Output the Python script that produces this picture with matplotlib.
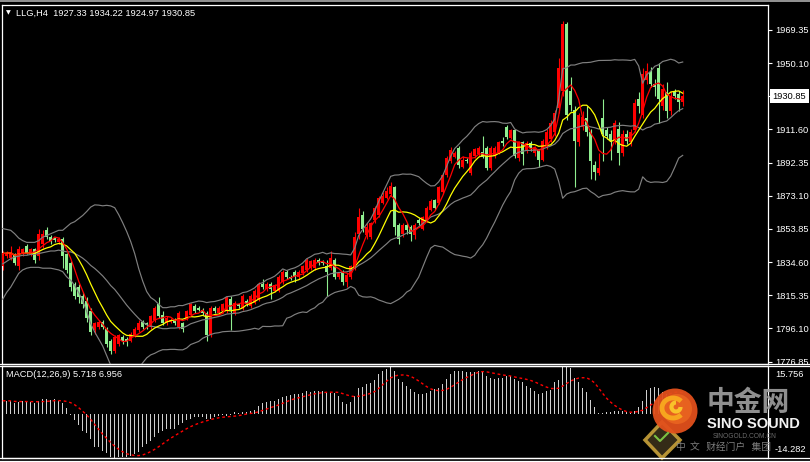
import numpy as np
import pandas as pd
import matplotlib
matplotlib.use('Agg')
from matplotlib import pyplot as plt
from matplotlib import patches

plt.rcParams['font.family'] = ['Liberation Sans', 'DejaVu Sans']

# H4 candles (index 0 = leftmost bar)
opens = [
    1832, 1838, 1837, 1839, 1832, 1839, 1844, 1839, 1842, 1838,
    1845, 1853, 1849, 1848.5, 1846, 1848, 1839, 1834, 1822, 1820,
    1815, 1812, 1806, 1795, 1797, 1800, 1796, 1789, 1783, 1787,
    1791, 1790, 1789, 1792, 1795, 1800, 1799, 1797, 1801, 1810,
    1804, 1799, 1800, 1801, 1797, 1799, 1802, 1804, 1809, 1808,
    1807, 1805, 1792, 1808, 1805, 1806, 1806, 1813, 1805, 1810,
    1808, 1812, 1809, 1811, 1813, 1822, 1819, 1822, 1818, 1818,
    1823, 1829, 1826, 1829, 1826, 1828, 1830, 1831, 1831, 1836,
    1835, 1832, 1831, 1836, 1826, 1829, 1823, 1826, 1831, 1851,
    1862, 1850, 1849, 1859, 1862, 1869, 1872, 1874, 1878, 1856,
    1851, 1856, 1855, 1850.5, 1859, 1854, 1859, 1865, 1870.5, 1869,
    1875, 1885, 1893, 1895.5, 1901, 1890, 1894, 1886, 1896, 1897,
    1898.5, 1901, 1889, 1896, 1898, 1905, 1913, 1906.5, 1911, 1895,
    1904, 1899, 1903.5, 1898, 1899.5, 1894, 1902, 1906, 1910, 1924,
    1934, 1973, 1934, 1923, 1904, 1913, 1918, 1910, 1891, 1886,
    1918, 1911, 1909, 1905, 1912, 1898, 1909, 1904, 1911, 1929,
    1920, 1940, 1945, 1938, 1947, 1925, 1933, 1922, 1933.5, 1932,
    1927.33]
highs = [
    1841, 1841, 1844, 1840, 1844, 1843, 1845, 1843, 1843, 1854,
    1853, 1855, 1850, 1849, 1849, 1849, 1840, 1835, 1823, 1822,
    1817, 1814, 1808, 1800, 1801, 1801, 1797, 1790, 1792, 1793,
    1792, 1791, 1794, 1797, 1801, 1801, 1800, 1804, 1809, 1814,
    1806, 1803, 1802, 1802, 1806, 1800, 1807, 1811, 1810, 1809,
    1808, 1806, 1809, 1809, 1809, 1811, 1815, 1815, 1812, 1811,
    1816, 1813, 1816, 1819, 1823, 1825, 1823, 1823, 1822, 1827,
    1830, 1830, 1827, 1830, 1830, 1833, 1837, 1836, 1837, 1837,
    1836, 1836, 1841, 1837, 1829, 1830, 1828, 1833, 1852, 1866,
    1864, 1857, 1858, 1867, 1873, 1875, 1878, 1881, 1879, 1857,
    1857, 1857, 1856, 1857, 1860, 1861.5, 1867, 1871, 1871, 1879,
    1886, 1896, 1901.5, 1899, 1902, 1896, 1895, 1899, 1901, 1902,
    1908, 1902, 1902, 1902, 1905, 1907, 1914, 1912, 1912, 1905,
    1905, 1905, 1905, 1902, 1900, 1906, 1912, 1917, 1923, 1953,
    1974.5, 1974, 1942, 1925, 1921, 1922, 1925, 1912, 1893, 1898,
    1929, 1913, 1911, 1917, 1916, 1911, 1911, 1912, 1929, 1933,
    1947, 1950, 1948, 1941, 1950, 1938, 1939, 1934, 1935, 1934,
    1934.22]
lows = [
    1830, 1837, 1836, 1833, 1830, 1838, 1839, 1838, 1834, 1836,
    1843, 1848, 1845, 1846, 1845, 1831, 1828, 1818, 1813, 1811,
    1808, 1800, 1792, 1793, 1796, 1796, 1785, 1781, 1782, 1786,
    1787, 1786, 1788, 1791, 1794, 1796, 1796, 1796, 1800, 1802,
    1798, 1798, 1799, 1798, 1796, 1794, 1801, 1803, 1805, 1806,
    1804, 1789, 1791, 1805, 1804, 1805, 1805, 1795, 1804, 1808,
    1807, 1809, 1808, 1810, 1812, 1819, 1818, 1813, 1817, 1817,
    1822, 1825, 1824, 1823, 1825, 1827, 1829, 1830, 1830, 1833,
    1833, 1815, 1830, 1825, 1825, 1821, 1820, 1825, 1830, 1848,
    1852, 1848, 1848, 1857, 1861, 1868, 1871, 1873, 1850, 1845,
    1849, 1851, 1847, 1848, 1856, 1853, 1858, 1864, 1865, 1868,
    1874, 1884, 1892, 1895, 1889, 1889, 1892, 1885, 1895, 1896,
    1895, 1888, 1888, 1895, 1897, 1902, 1906, 1906, 1895, 1893,
    1891, 1898, 1899, 1896, 1890, 1893, 1900, 1904, 1908, 1921,
    1931, 1917, 1922, 1878, 1902, 1911, 1908, 1883, 1882, 1885,
    1893, 1906, 1894, 1903, 1891, 1896, 1903, 1902, 1910, 1921,
    1918, 1938, 1936, 1931, 1915, 1923, 1918, 1920, 1929, 1922,
    1924.97]
closes = [
    1839.5, 1840, 1840.5, 1834, 1842, 1842, 1840, 1842, 1836, 1851,
    1851, 1849, 1847, 1847.5, 1848, 1838, 1830, 1820, 1815, 1814,
    1810, 1802, 1794, 1799, 1800, 1797, 1787, 1783, 1791, 1792,
    1789, 1788, 1793, 1796, 1799, 1797, 1798, 1803, 1808, 1803,
    1799, 1802, 1801, 1799, 1805, 1796, 1806, 1810, 1806, 1806.5,
    1805, 1792, 1808, 1806, 1808, 1810, 1814, 1807, 1811, 1809,
    1815, 1810, 1815, 1818, 1822, 1820, 1822, 1819, 1821, 1826,
    1829, 1826, 1825, 1826, 1829, 1832, 1836, 1835, 1836, 1834,
    1834, 1829, 1837, 1826, 1828, 1823, 1827, 1832, 1849, 1861,
    1854, 1855, 1857, 1866, 1872, 1873, 1876, 1879, 1855, 1848,
    1856, 1853, 1851, 1856, 1857, 1860.5, 1866, 1870, 1866, 1878,
    1885, 1895, 1899.5, 1898, 1891, 1894, 1893, 1898, 1900, 1901,
    1895.5, 1889, 1901, 1901, 1904, 1903.5, 1907, 1911, 1896, 1904,
    1897, 1903.5, 1900.5, 1901, 1894, 1905, 1910, 1915, 1921, 1947,
    1973, 1920, 1926, 1905, 1920, 1919, 1910, 1893, 1887, 1889,
    1909, 1908, 1905, 1915, 1898, 1909, 1905, 1910, 1927, 1925,
    1944, 1945.5, 1938, 1936, 1929, 1935, 1922, 1931, 1931, 1927.5,
    1930.85]

# bollinger values on the first 19 bars (history before the window is not shown)
bb_up_head = [1854, 1853.5, 1853, 1851, 1848.5, 1847, 1846, 1846, 1846, 1847,
              1849, 1850, 1851, 1852, 1853, 1853, 1855, 1857, 1858]
bb_mid_head = [1833.5, 1835, 1836.5, 1837.5, 1838, 1838.5, 1838.5, 1839, 1839, 1839.5,
               1840, 1840.5, 1841, 1841, 1841.5, 1841, 1840.5, 1840.5, 1839.5]
bb_lo_head = [1813, 1817, 1820, 1824, 1828, 1830, 1831, 1831.5, 1831.5, 1831.5,
              1831, 1831, 1831, 1830.5, 1830, 1829, 1826, 1824, 1821]

# MACD main line per bar
macd_main = [
    4.3, 4.3, 4.2, 3.6, 3.8, 4.1, 4.1, 3.8, 3.6, 4.3,
    4.8, 4.8, 4.6, 4.8, 4.3, 3.6, 2.0, -0.2, -1.8, -3.7,
    -5.4, -6.3, -8.2, -10.7, -10.7, -12.0, -12.6, -14.0, -14.282, -14.1,
    -13.9, -13.9, -13.5, -13.0, -12.2, -10.7, -9.7, -8.8, -7.5, -6.2,
    -5.6, -5.0, -5.0, -5.0, -3.7, -2.8, -2.0, -1.5, -1.1, -1.0,
    -1.1, -1.5, -1.5, -0.9, -0.5, -0.3, -0.5, -0.3, 0.5, 0.3,
    0.8, 0.8, 1.0, 1.3, 2.7, 3.6, 4.0, 4.3, 4.1, 4.8,
    5.4, 5.9, 6.1, 6.4, 6.6, 6.7, 7.4, 7.1, 7.4, 7.4,
    7.4, 7.1, 6.7, 6.7, 5.9, 4.0, 3.3, 4.0, 5.9, 8.4,
    8.9, 9.9, 10.2, 11.2, 13.1, 14.0, 14.6, 15.3, 13.9, 11.5,
    10.3, 9.2, 8.0, 7.2, 6.5, 6.5, 6.9, 7.4, 8.1, 8.4,
    9.9, 11.5, 13.0, 14.1, 14.1, 14.1, 13.7, 13.7, 13.7, 14.1,
    13.5, 12.2, 11.8, 11.5, 11.8, 11.8, 12.2, 12.2, 11.5, 10.7,
    10.3, 9.2, 8.4, 7.6, 6.5, 6.9, 7.4, 7.7, 10.5, 11.1,
    15.756, 15.6, 14.9, 11.7, 10.4, 8.5, 7.2, 4.7, 2.2, 0.3,
    0.3, 0.5, 0.5, 0.9, 0.9, 0.9, 0.6, 0.3, 0.9, 2.2,
    4.1, 7.9, 8.5, 8.7, 8.4, 7.3, 6.5, 6.0, 5.8, 5.6,
    5.718]

price_ticks = [1969.35, 1950.10, 1930.85, 1911.60, 1892.35, 1873.10,
               1853.85, 1834.60, 1815.35, 1796.10, 1776.85]
last_price = 1930.85
macd_max, macd_min = 15.756, -14.282
title_text = 'LLG,H4  1927.33 1934.22 1924.97 1930.85'
macd_text = 'MACD(12,26,9) 5.718 6.956'

df = pd.DataFrame({'open': opens, 'high': highs, 'low': lows, 'close': closes})
df['ma_fast'] = df.close.rolling(5, min_periods=1).mean()
df['ma_slow'] = df.close.rolling(10, min_periods=1).mean()
mid = df.close.rolling(20).mean()
sd = df.close.rolling(20).std(ddof=0)
df['bb_mid'] = mid
df['bb_up'] = mid + 2 * sd
df['bb_lo'] = mid - 2 * sd
n0 = len(bb_up_head)
df.loc[:n0 - 1, 'bb_up'] = bb_up_head
df.loc[:n0 - 1, 'bb_mid'] = bb_mid_head
df.loc[:n0 - 1, 'bb_lo'] = bb_lo_head
signal = pd.Series(macd_main).rolling(9, min_periods=1).mean()

W, H = 810, 462
fig = plt.figure(figsize=(W / 100, H / 100), dpi=100, facecolor='black')


def box(l, t, r, b):
    return [l / W, 1 - b / H, (r - l) / W, (b - t) / H]


ax = fig.add_axes(box(1.5, 4.5, 768, 363.5))
axm = fig.add_axes(box(1.5, 365.5, 768, 458))
idx = np.arange(len(df))
for a in (ax, axm):
    a.set_facecolor('black')
    for s in a.spines.values():
        s.set_color('white')
        s.set_linewidth(0.9)
    a.set_xlim((1.5 - 2.7) / 4, (768 - 2.7) / 4)
    a.set_xticks([])

#%% candles
up = df.close >= df.open
col = np.where(up, '#ff0000', '#90ee90')
ax.vlines(idx, df.low, df.high, colors=col, linewidth=0.8, zorder=2)
body = (df.close - df.open).abs().clip(lower=0.35)
ax.bar(idx, body, bottom=df[['open', 'close']].min(axis=1), width=0.72,
       color=col, linewidth=0, zorder=3)

# indicators
for c in ['bb_up', 'bb_mid', 'bb_lo']:
    ax.plot(idx, df[c], color='#808080', lw=0.85, zorder=4)
ax.plot(idx, df.ma_slow, color='#ffff00', lw=0.9, zorder=5)
ax.plot(idx, df.ma_fast, color='#ff0000', lw=0.9, zorder=6)

ax.set_ylim(1775.69, 1984.06)
ax.yaxis.tick_right()
ax.set_yticks(price_ticks)
# the current-price box covers the tick that sits at the same level
ax.set_yticklabels(['' if v == last_price else f'{v:.2f}' for v in price_ticks])
ax.tick_params(axis='y', colors='white', length=3, width=0.8, labelsize=6.7, pad=2)
ax.annotate(f'{last_price:.2f}', xy=(1, last_price), xycoords=('axes fraction', 'data'),
            xytext=(3.2, 0), textcoords='offset points', va='center', ha='left',
            fontsize=6.7, color='black', annotation_clip=False,
            bbox=dict(boxstyle='square,pad=0.3', fc='white', ec='none'))

#%% MACD
axm.bar(idx, macd_main, width=0.3, color='#cfcfcf', linewidth=0, zorder=2)
axm.plot(idx, signal, color='#ff0000', lw=1.0, linestyle=(0, (2, 2)), zorder=3)
axm.set_ylim(macd_min, macd_max)
axm.set_yticks([])
axm.annotate(f'{macd_max:.3f}', xy=(1, 1), xycoords='axes fraction', xytext=(5, -3),
             textcoords='offset points', va='top', ha='left', fontsize=6.7,
             color='white', annotation_clip=False)
axm.annotate(f'{macd_min:.3f}', xy=(1, 0), xycoords='axes fraction', xytext=(5, 3),
             textcoords='offset points', va='bottom', ha='left', fontsize=6.7,
             color='white', annotation_clip=False)

#%% overlay in pixel units: titles, frame lines, watermark
ov = fig.add_axes([0, 0, 1, 1], zorder=10)
ov.set_xlim(0, W)
ov.set_ylim(H, 0)
ov.axis('off')
ov.patch.set_alpha(0)
ov.add_patch(patches.Rectangle((0, 0), W, 1.8, fc='#909090', ec='none'))
for yy in (363.5, 365.5, 458, 460.5):
    ov.plot([0, W], [yy, yy], color='white', lw=0.9)

ov.text(6, 13, '\u25bc', fontsize=4.5, color='white', va='center', ha='left',
        family=['DejaVu Sans'])
ov.text(16, 13.5, title_text, fontsize=6.7, color='white', va='center', ha='left')
ov.text(6, 374.5, macd_text, fontsize=6.7, color='white', va='center', ha='left')

# sino sound watermark
ov.add_patch(patches.Polygon([(645, 440), (662, 422), (680, 440), (662, 458)],
                             closed=True, fc='#3a301a', ec='#c9a23a', lw=2.5, alpha=0.9))
ov.plot([655, 660, 668], [436, 441, 433], color='#7cc242', lw=1.5)
ov.add_patch(patches.Circle((675, 411), 22.5, fc='#e2501c', ec='none', alpha=0.95))
ov.add_patch(patches.Circle((677, 409), 15, fc='#ea6420', ec='none', alpha=0.9))
ov.add_patch(patches.Arc((673, 408), 22, 20, theta1=40, theta2=320, lw=3.5, color='#f7a51e'))
ov.add_patch(patches.Arc((676, 407), 9, 9, theta1=0, theta2=270, lw=3, color='#f9c22a'))
ov.text(748, 403, '中金网', fontsize=20, fontweight='bold', color='#a0a0a0', alpha=0.9,
        ha='center', va='center', family=['Noto Sans CJK SC'])
ov.text(745, 437, 'SINOGOLD.COM.CN', fontsize=4.8, color='#6a6a6a', ha='center', va='center')
ov.text(753, 424.5, 'SINO SOUND', fontsize=10.5, fontweight='bold', color='#f2f2f2',
        ha='center', va='center')
ov.text(724, 447, '中  文   财经门户   集团', fontsize=7, color='#8a8a8a', alpha=0.9,
        ha='center', va='center', family=['Noto Sans CJK SC'])

plt.savefig('out.png', dpi=100, facecolor='black')
